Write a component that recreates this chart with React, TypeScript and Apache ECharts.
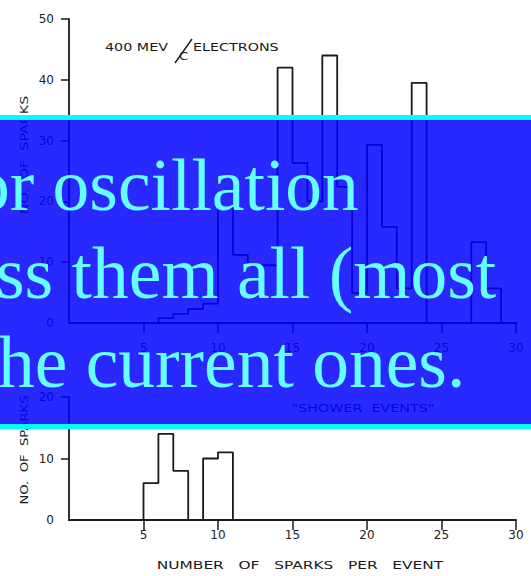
import React, { useEffect, useRef } from "react";
import * as echarts from "echarts";

// ---- data ----
const binStarts = [0,1,2,3,4,5,6,7,8,9,10,11,12,13,14,15,16,17,18,19,20,21,22,23,24,25,26,27,28,29];
const electronCounts = [0,0,0,0,0,0,0.8,1.5,2.3,3.2,19,11.2,9.5,9.5,42,26.3,20,44,22.4,4.9,29.3,15.8,5.7,39.5,0,0,0,13.3,5.7,0];
const showerCounts = [0,0,0,0,0,6,14,8,0,10,11,0,0,0,0,0,0,0,0,0,0,0,0,0,0,0,0,0,0,0];
const xTickValues = [5,10,15,20,25,30];
const topYTickValues = [10,20,30,40,50];
const topYLabelValues = [0,10,20,30,40,50];
const bottomYTickValues = [10,20];
const bottomYLabelValues = [0,10,20];
const overlayLines = ["or oscillation", "ss them all (most", "he current ones."];
const panelTitle = ["400 MEV", "C", "ELECTRONS"];
const showerTitle = "\"SHOWER  EVENTS\"";
const yName = "NO.  OF  SPARKS";
const xName = "NUMBER   OF   SPARKS   PER   EVENT";

const INK = "#1a1a1a";
const LBL = "DejaVu Sans";

function stepData(counts: number[]) {
  const d = binStarts.map((x, i) => [x, counts[i]]);
  d.push([binStarts[binStarts.length - 1] + 1, 0]);
  return d;
}

function xAxisCfg(gridIndex: number, margin: number) {
  return {
    type: "value", gridIndex, min: 0, max: 30, interval: 5,
    axisLine: { show: true, lineStyle: { color: INK, width: 1.8 } },
    axisTick: { show: true, length: 10, customValues: xTickValues, lineStyle: { color: INK, width: 1.5 } },
    axisLabel: { show: true, customValues: xTickValues, margin, color: "#222", fontFamily: LBL, fontSize: 12 },
    splitLine: { show: false },
  };
}

function yAxisCfg(gridIndex: number, max: number, ticks: number[], labels: number[]) {
  return {
    type: "value", gridIndex, min: 0, max, interval: 10,
    axisLine: { show: true, lineStyle: { color: INK, width: 1.8 } },
    axisTick: { show: true, length: 8, customValues: ticks, lineStyle: { color: INK, width: 1.5 } },
    axisLabel: { show: true, customValues: labels, margin: 15, color: "#222", fontFamily: LBL, fontSize: 12 },
    splitLine: { show: false },
  };
}

function txt(text: string, x: number, y: number, opts: any = {}) {
  const align = opts.align || "left";
  return {
    type: "text", x, y, z: opts.z ?? 10, rotation: opts.rotation || 0,
    scaleX: opts.scaleX || 1, scaleY: 1, silent: true,
    style: {
      text, x: 0, y: 0,
      font: opts.font || `11px "${LBL}"`,
      fill: opts.fill || INK,
      align, textAlign: align,
      verticalAlign: "middle", textVerticalAlign: "middle",
    },
  };
}

export default function App() {
  const ref = useRef<HTMLDivElement>(null);
  useEffect(() => {
    document.body.style.margin = "0";
    const chart = echarts.init(ref.current!, null, { renderer: "svg" });
    const serif = `73.5px "Liberation Serif"`;
    chart.setOption({
      animation: false,
      backgroundColor: "#ffffff",
      grid: [
        { left: 69, right: 15, top: 19, height: 304 },
        { left: 69, right: 15, top: 397, height: 123 },
      ],
      xAxis: [xAxisCfg(0, 19), xAxisCfg(1, 9)],
      yAxis: [
        yAxisCfg(0, 50, topYTickValues, topYLabelValues),
        yAxisCfg(1, 20, bottomYTickValues, bottomYLabelValues),
      ],
      series: [
        {
          type: "line", xAxisIndex: 0, yAxisIndex: 0, step: "end", symbol: "none", silent: true,
          lineStyle: { color: INK, width: 1.8 }, data: stepData(electronCounts),
        },
        {
          type: "line", xAxisIndex: 1, yAxisIndex: 1, step: "end", symbol: "none", silent: true,
          lineStyle: { color: INK, width: 1.8 }, data: stepData(showerCounts),
        },
      ],
      graphic: [
        txt(panelTitle[0], 105, 47, { scaleX: 1.3 }),
        { type: "line", z: 10, silent: true, shape: { x1: 175, y1: 63, x2: 192, y2: 39 }, style: { stroke: INK, lineWidth: 1.4 } },
        txt(panelTitle[1], 179, 56, { font: `11px "${LBL}"`, scaleX: 1.2 }),
        txt(panelTitle[2], 193, 47, { scaleX: 1.3 }),
        txt(yName, 24, 155, { align: "center", rotation: Math.PI / 2, scaleX: 1.3 }),
        txt(yName, 24, 450, { align: "center", rotation: Math.PI / 2, scaleX: 1.2 }),
        txt(showerTitle, 363, 408, { align: "center", scaleX: 1.3 }),
        txt(xName, 300, 565, { align: "center", scaleX: 1.4 }),
        // overlay slide box
        { type: "rect", z: 100, silent: true, shape: { x: 0, y: 120, width: 531, height: 304 }, style: { fill: "rgb(0,0,255)", opacity: 0.84 } },
        { type: "rect", z: 101, silent: true, shape: { x: 0, y: 115, width: 531, height: 5 }, style: { fill: "#00ffff" } },
        { type: "rect", z: 101, silent: true, shape: { x: 0, y: 424, width: 531, height: 5 }, style: { fill: "#00ffff" } },
        txt(overlayLines[0], -27, 185, { font: serif, fill: "#66ffff", z: 102 }),
        txt(overlayLines[1], -4, 273, { font: serif, fill: "#66ffff", z: 102 }),
        txt(overlayLines[2], -2, 362, { font: serif, fill: "#66ffff", z: 102 }),
      ],
    });
    return () => chart.dispose();
  }, []);
  return <div ref={ref} style={{ width: 531, height: 576 }} />;
}
